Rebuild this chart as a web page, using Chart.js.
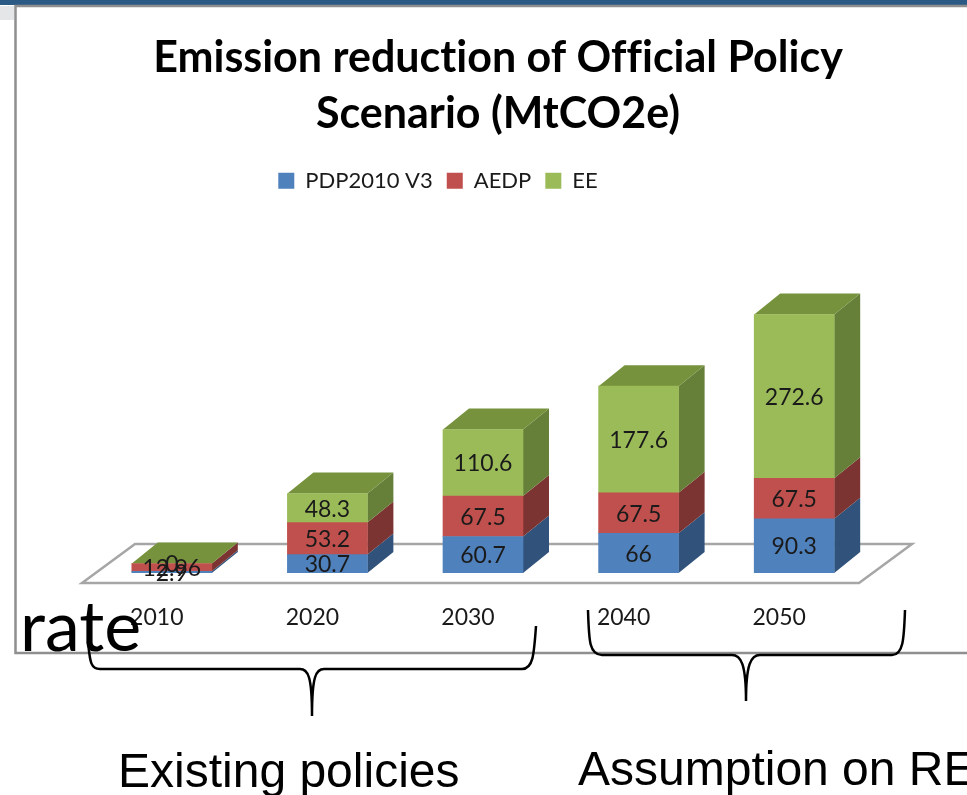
<!DOCTYPE html>
<html>
<head>
<meta charset="utf-8">
<title>Emission reduction of Official Policy Scenario</title>
<script src="https://cdn.jsdelivr.net/npm/chart.js@4/dist/chart.umd.min.js"></script>
<style>
    html, body { margin: 0; padding: 0; background: #fff; overflow: hidden; }
    #stage { position: relative; width: 967px; height: 795px; overflow: hidden; }
    #chart, #notes { position: absolute; left: 0; top: 0; }
</style>
</head>
<body>
<div id="stage">
    <canvas id="chart" width="967" height="795"></canvas>
    <svg id="notes" width="967" height="795" font-family="'Liberation Sans'" fill="#000">
        <!-- slide frame -->
        <rect x="0" y="0" width="967" height="5" fill="#2b5a85"/>
        <rect x="0" y="6" width="14" height="14" fill="#e4e6e8"/>
        <path d="M967 6 H15.5 V653 H967" fill="none" stroke="#8f8f8f" stroke-width="2.5"/>
        <!-- braces under the axis -->
        <g fill="none" stroke="#000" stroke-width="2.5">
            <path d="M88 642 C90 660 90 669 100 669 H300 C308 669 312 676 312 716 C312 676 316 669 324 669 H522 C533 669 534 655 536 626"/>
            <path d="M588 610 C589 640 589 655 602 655 H732 C741 655 746 664 746 701 C746 664 751 655 760 655 H892 C903 655 904 640 905 610"/>
        </g>
        <text x="20" y="651" font-family="Lato" font-size="70">rate</text>
        <text x="118" y="787" font-size="48">Existing policies</text>
        <text x="578" y="785" font-size="48">Assumption on RE</text>
    </svg>
</div>
<script>
const years = ['2010', '2020', '2030', '2040', '2050'];
const pdpValues = [2.9, 30.7, 60.7, 66, 90.3];
const aedpValues = [12.96, 53.2, 67.5, 67.5, 67.5];
const eeValues = [0, 48.3, 110.6, 177.6, 272.6];

const seriesNames = ['PDP2010 V3', 'AEDP', 'EE'];
const frontColors = ['#4f81bd', '#c0504d', '#9bbb59'];
const sideColors = ['#31527a', '#7b3431', '#66803a'];
const topColor = '#76923c';
const textColor = '#1a1a1a';
const fontName = 'Lato';

// how far the bars and the floor recede into the picture
const depthX = 26;
const depthY = 21;

// floor plate + side and top faces of each stacked box
const boxFaces = {
    id: 'boxFaces',
    beforeDatasetsDraw(chart) {
        const { ctx } = chart;
        const xs = chart.scales.x;
        const base = chart.scales.y.getPixelForValue(0);

        ctx.save();
        ctx.beginPath();
        ctx.moveTo(xs.left - 12, base + 10);
        ctx.lineTo(xs.right - 13, base + 10);
        ctx.lineTo(xs.right + 40, base - 29);
        ctx.lineTo(xs.left + 41, base - 29);
        ctx.closePath();
        ctx.fillStyle = '#fff';
        ctx.fill();
        ctx.strokeStyle = '#a6a6a6';
        ctx.lineWidth = 2.5;
        ctx.stroke();

        chart.data.datasets.forEach((ds, i) => {
            const bars = chart.getDatasetMeta(i).data;
            bars.forEach((bar) => {
                const right = bar.x + bar.width / 2;
                ctx.beginPath();
                ctx.moveTo(right, bar.base);
                ctx.lineTo(right + depthX, bar.base - depthY);
                ctx.lineTo(right + depthX, bar.y - depthY);
                ctx.lineTo(right, bar.y);
                ctx.closePath();
                ctx.fillStyle = sideColors[i];
                ctx.fill();
                if (i === chart.data.datasets.length - 1) {
                    const left = bar.x - bar.width / 2;
                    ctx.beginPath();
                    ctx.moveTo(left, bar.y);
                    ctx.lineTo(right, bar.y);
                    ctx.lineTo(right + depthX, bar.y - depthY);
                    ctx.lineTo(left + depthX, bar.y - depthY);
                    ctx.closePath();
                    ctx.fillStyle = topColor;
                    ctx.fill();
                }
            });
        });
        ctx.restore();
    }
};

// value written in the middle of each segment
const segmentLabels = {
    id: 'segmentLabels',
    afterDatasetsDraw(chart) {
        const { ctx } = chart;
        ctx.save();
        ctx.font = '23px ' + fontName;
        ctx.fillStyle = textColor;
        ctx.textAlign = 'center';
        ctx.textBaseline = 'middle';
        chart.data.datasets.forEach((ds, i) => {
            chart.getDatasetMeta(i).data.forEach((bar, j) => {
                ctx.fillText(String(ds.data[j]), bar.x, (bar.y + bar.base) / 2 + 1);
            });
        });
        ctx.restore();
    }
};

// title and legend do not sit over the middle of the plot
const shiftHeader = {
    id: 'shiftHeader',
    afterLayout(chart) {
        chart.titleBlock.left += 15;
        chart.titleBlock.right += 15;
        chart.legend.left -= 45;
        chart.legend.right -= 45;
    },
    beforeDraw(chart) {
        // keeps the "ffi" in the title as separate letters
        chart.ctx.textRendering = 'optimizeSpeed';
    }
};

new Chart(document.getElementById('chart'), {
    type: 'bar',
    data: {
        labels: years,
        datasets: [pdpValues, aedpValues, eeValues].map((values, i) => ({
            label: seriesNames[i],
            data: values,
            backgroundColor: frontColors[i],
            barThickness: 80
        }))
    },
    plugins: [boxFaces, segmentLabels, shiftHeader],
    options: {
        responsive: false,
        animation: false,
        layout: { padding: { left: 94, right: 95, top: 30, bottom: 162 } },
        plugins: {
            title: {
                display: true,
                text: ['Emission reduction of Official Policy', 'Scenario (MtCO2e)'],
                color: '#000',
                font: { family: fontName, size: 43, weight: 'bold', lineHeight: 1.3 },
                padding: { top: 0, bottom: 14 }
            },
            legend: {
                position: 'top',
                labels: {
                    color: textColor,
                    font: { family: fontName, size: 22 },
                    boxWidth: 16,
                    boxHeight: 16,
                    padding: 14
                }
            },
            tooltip: { enabled: false }
        },
        scales: {
            x: {
                stacked: true,
                grid: { display: false, drawTicks: false },
                border: { display: false },
                ticks: {
                    color: textColor,
                    font: { family: fontName, size: 23 },
                    padding: 31,
                    labelOffset: -15,
                    maxRotation: 0
                },
                afterFit(scale) { scale.height = 60; }
            },
            y: {
                stacked: true,
                display: false,
                min: 0,
                max: 618
            }
        }
    }
});
</script>
</body>
</html>
